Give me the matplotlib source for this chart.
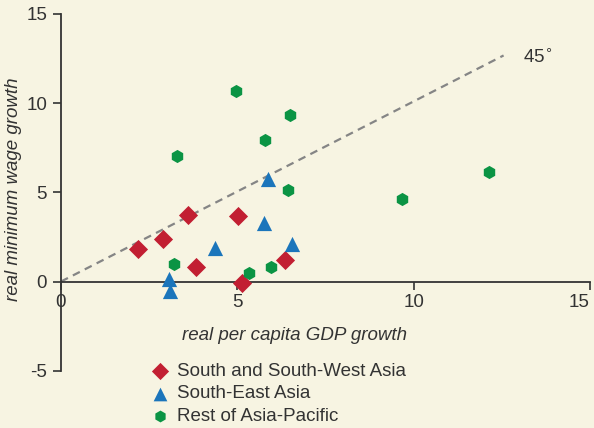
import matplotlib
matplotlib.use("Agg")
import matplotlib.pyplot as plt

plt.rcParams['font.family'] = ['Liberation Sans', 'DejaVu Sans']

# Data
ssw_gdp = [2.17, 2.89, 3.61, 3.82, 5.03, 5.13, 6.34]
ssw_wage = [1.84, 2.36, 3.75, 0.84, 3.67, -0.09, 1.22]

sea_gdp = [5.86, 5.76, 4.37, 6.56, 3.07, 3.09]
sea_wage = [5.73, 3.30, 1.89, 2.08, 0.13, -0.54]

rap_gdp = [3.21, 5.32, 5.96, 6.43, 4.95, 6.48, 5.78, 3.28, 9.67, 12.15]
rap_wage = [0.96, 0.47, 0.79, 5.11, 10.66, 9.31, 7.94, 7.04, 4.62, 6.16]

line45_x = [0, 12.55]
line45_y = [0, 12.55 * 1.01]

series_names = ["South and South-West Asia", "South-East Asia", "Rest of Asia-Pacific"]
x_ticks = [0, 5, 10, 15]
y_ticks = [-5, 0, 5, 10, 15]

BG = '#f7f4e2'
RED = '#c21f32'
BLUE = '#1b75bb'
GREEN = '#0b9444'
DARK = '#333333'
FS = 13.5

W, H = 594, 428
fig = plt.figure(figsize=(W / 100, H / 100), dpi=100, facecolor=BG)
ax = fig.add_axes([61 / W, 1 - 370.7 / H, (590 - 61) / W, (370.7 - 14) / H])
ax.set_facecolor(BG)

ax.plot(line45_x, line45_y, ls=(0, (3.5, 2.5)), color='#858585', lw=1.6, zorder=2)
ax.text(13.1, 12.6, "45$^{\\circ}$", fontsize=FS, color=DARK, ha='left', va='center')

ax.scatter(ssw_gdp, ssw_wage, marker='D', s=95, color=RED, linewidths=0,
           zorder=3, clip_on=False, label=series_names[0])
ax.scatter(sea_gdp, sea_wage, marker='^', s=120, color=BLUE, linewidths=0,
           zorder=3, clip_on=False, label=series_names[1])
ax.scatter(rap_gdp, rap_wage, marker='h', s=90, color=GREEN, linewidths=0,
           zorder=3, clip_on=False, label=series_names[2])

ax.set_xlim(0, 15)
ax.set_ylim(-5, 15)
for s in ['top', 'right']:
    ax.spines[s].set_visible(False)
ax.spines['bottom'].set_position(('data', 0))
ax.spines['left'].set_color(DARK)
ax.spines['bottom'].set_color(DARK)
ax.spines['left'].set_linewidth(1.3)
ax.spines['bottom'].set_linewidth(1.3)
ax.set_xticks(x_ticks)
ax.set_yticks(y_ticks)
ax.set_xticklabels([str(v) for v in x_ticks])
ax.set_yticklabels([str(v) for v in y_ticks])
ax.tick_params(axis='both', direction='out', length=6, width=1.2, color=DARK,
               labelcolor=DARK, labelsize=FS, pad=4)
ax.tick_params(axis='x', pad=3)
ax.get_xticklabels()[-1].set_horizontalalignment('right')

fig.text(295 / W, 1 - 336 / H, "real per capita GDP growth", fontsize=FS,
         style='italic', color=DARK, ha='center', va='center')
fig.text(14 / W, 1 - 189 / H, "real minimum wage growth", fontsize=FS,
         style='italic', color=DARK, ha='center', va='center', rotation=90)

leg = ax.legend(loc='upper left', bbox_to_anchor=(152 / W, 1 - 363 / H),
                bbox_transform=fig.transFigure, frameon=False, fontsize=FS,
                handlelength=0.9, handletextpad=0.45, borderpad=0,
                borderaxespad=0, labelspacing=0.28, scatterpoints=1,
                markerscale=0.9)
for t in leg.get_texts():
    t.set_color(DARK)

fig.savefig("out.png", dpi=100, facecolor=BG)
